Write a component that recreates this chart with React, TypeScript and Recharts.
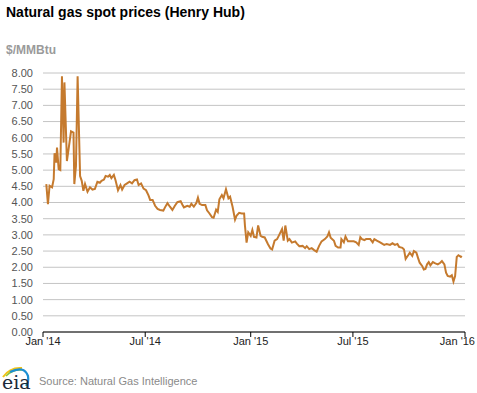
import React from 'react';
import { LineChart, Line, XAxis, YAxis, CartesianGrid } from 'recharts';

// trading-day index since Jan 2 2014
const tradingDay = [
  4, 6, 8, 11, 13, 14, 16, 17, 19, 21, 23, 25, 26, 29, 31, 34, 37, 38, 40, 42,
  45, 47, 49, 51, 54, 57, 60, 63, 66, 69, 71, 74, 76, 79, 81, 83, 86, 88, 91, 94,
  96, 99, 102, 105, 108, 111, 114, 116, 119, 122, 125, 128, 130, 133, 136, 139, 142, 146, 148, 151,
  154, 157, 160, 163, 167, 169, 171, 175, 178, 180, 183, 186, 188, 190, 193, 197, 199, 202, 205, 207,
  210, 212, 214, 217, 219, 222, 225, 227, 230, 233, 235, 238, 241, 244, 245, 247, 249, 252, 254, 256,
  259, 261, 264, 266, 269, 273, 276, 278, 281, 284, 286, 290, 292, 294, 297, 299, 302, 306, 308, 311,
  315, 318, 320, 323, 326, 329, 332, 335, 338, 342, 345, 347, 349, 353, 355, 358, 361, 362, 365, 367,
  370, 374, 377, 380, 383, 385, 387, 390, 392, 395, 397, 400, 402, 405, 409, 412, 414, 417, 421, 424,
  427, 430, 432, 436, 438, 440, 443, 445, 448, 450, 453, 455, 457, 460, 462, 464, 466, 468, 470, 473,
  476, 479, 482, 484, 487, 489, 491, 494, 496, 498, 500, 502, 504, 507, 508,
];

// $/MMBtu
const henryHub = [
  4.57, 3.95, 4.52, 4.47, 4.72, 5.52, 5.23, 5.7, 5.03, 5.0, 7.9, 5.85, 7.71, 5.28, 5.64, 6.2, 6.16, 4.57, 5.13, 7.9,
  4.82, 4.67, 4.36, 4.57, 4.33, 4.47, 4.4, 4.42, 4.64, 4.61, 4.67, 4.71, 4.82, 4.8, 4.85, 4.75, 4.85, 4.69, 4.38, 4.54,
  4.4, 4.54, 4.59, 4.64, 4.59, 4.69, 4.71, 4.54, 4.59, 4.43, 4.38, 4.22, 4.08, 4.08, 3.9, 3.8, 3.77, 3.75, 3.85, 3.98,
  3.87, 3.77, 3.9, 4.01, 4.04, 3.94, 3.85, 3.9, 3.87, 3.96, 3.87, 3.98, 4.15, 3.96, 3.92, 3.92, 3.76, 3.66, 3.55, 3.53,
  3.78, 3.71, 4.1, 4.23, 4.13, 4.41, 4.13, 4.18, 3.87, 3.47, 3.6, 3.68, 3.66, 3.66, 3.29, 2.76, 3.08, 2.97, 3.15, 2.94,
  2.92, 3.29, 2.97, 2.94, 2.92, 2.71, 2.58, 2.55, 2.82, 2.87, 2.97, 3.18, 2.82, 3.29, 2.82, 2.87, 2.76, 2.8, 2.73, 2.65,
  2.66, 2.59, 2.65, 2.56, 2.59, 2.53, 2.48, 2.66, 2.8, 2.87, 2.95, 3.08, 2.91, 2.82, 2.66, 2.61, 2.61, 2.87, 2.77, 2.95,
  2.8, 2.8, 2.8, 2.77, 2.69, 2.93, 2.87, 2.84, 2.87, 2.87, 2.87, 2.77, 2.87, 2.82, 2.77, 2.72, 2.69, 2.72, 2.69, 2.74,
  2.69, 2.72, 2.63, 2.6, 2.55, 2.26, 2.37, 2.45, 2.35, 2.5, 2.45, 2.29, 2.14, 2.04, 1.93, 1.95, 2.09, 2.16, 2.06, 2.16,
  2.12, 2.09, 2.14, 2.19, 2.09, 1.83, 1.73, 1.71, 1.75, 1.56, 1.73, 2.32, 2.37, 2.32, 2.35,
];

const xTicks = [0, 124, 252, 376, 512];
const xTickLabels = ["Jan '14", "Jul '14", "Jan '15", "Jul '15", "Jan '16"];
const yTicks = [0, 0.5, 1, 1.5, 2, 2.5, 3, 3.5, 4, 4.5, 5, 5.5, 6, 6.5, 7, 7.5, 8];

const data = tradingDay.map((d, i) => ({ day: d, price: henryHub[i] }));

const FONT = '"Liberation Sans", Arial, sans-serif';

const XTick = (props: any) => {
  const { x, y, payload, index } = props;
  const last = index === xTicks.length - 1;
  const label = xTickLabels[xTicks.indexOf(payload.value)];
  return (
    <text
      x={last ? x + 10 : x}
      y={y}
      dy="0.71em"
      textAnchor={last ? 'end' : 'middle'}
      fontSize={11}
      fontFamily={FONT}
      fill="#222"
    >
      {label}
    </text>
  );
};

const App = () => {
  return (
    <div style={{ position: 'absolute', left: 0, top: 0, width: 477, height: 393, background: '#fff' }}>
      <LineChart width={477} height={393} data={data} margin={{ top: 73, right: 12, bottom: 41, left: 0 }}>
        <CartesianGrid horizontal vertical={false} stroke="#c4c4c4" />
        <XAxis
          dataKey="day"
          type="number"
          domain={[0, 512]}
          ticks={xTicks}
          interval={0}
          height={20}
          tickSize={5}
          tickMargin={0}
          tick={<XTick />}
          axisLine={{ stroke: '#000' }}
          tickLine={{ stroke: '#000' }}
        />
        <YAxis
          domain={[0, 8]}
          ticks={yTicks}
          interval={0}
          width={43}
          axisLine={false}
          tickLine={false}
          tickMargin={4}
          tickFormatter={(v: number) => v.toFixed(2)}
          tick={{ fill: '#555', fontSize: 11, fontFamily: FONT }}
        />
        <Line
          type="linear"
          dataKey="price"
          stroke="#c57a2e"
          strokeWidth={2}
          dot={false}
          isAnimationActive={false}
        />
      </LineChart>

      {/* title, unit, source and eia mark */}
      <svg width={477} height={393} style={{ position: 'absolute', left: 0, top: 0, pointerEvents: 'none' }}>
        <text x={6} y={17} fontFamily={FONT} fontWeight="bold" fontSize={14} fill="#000">
          Natural gas spot prices (Henry Hub)
        </text>
        <text x={6} y={54} fontFamily={FONT} fontWeight="bold" fontSize={12} fill="#9a9a9a">
          $/MMBtu
        </text>
        <path d="M3,377 Q10,367 22,368" stroke="#f2c318" strokeWidth={2} fill="none" />
        <path d="M6,376 Q13,369 22,370" stroke="#8dc63f" strokeWidth={1.5} fill="none" />
        <path d="M10,372 Q24,365 28,376 Q29,382 26,386" stroke="#1c8fd2" strokeWidth={2.2} fill="none" />
        <text x={2} y={389} fontFamily='"DejaVu Serif", "Liberation Serif", serif' fontSize={19} fill="#1b2a3a">
          eia
        </text>
        <text x={39} y={385} fontFamily={FONT} fontSize={11} fill="#8a8a8a">
          Source: Natural Gas Intelligence
        </text>
      </svg>
    </div>
  );
};

export default App;
